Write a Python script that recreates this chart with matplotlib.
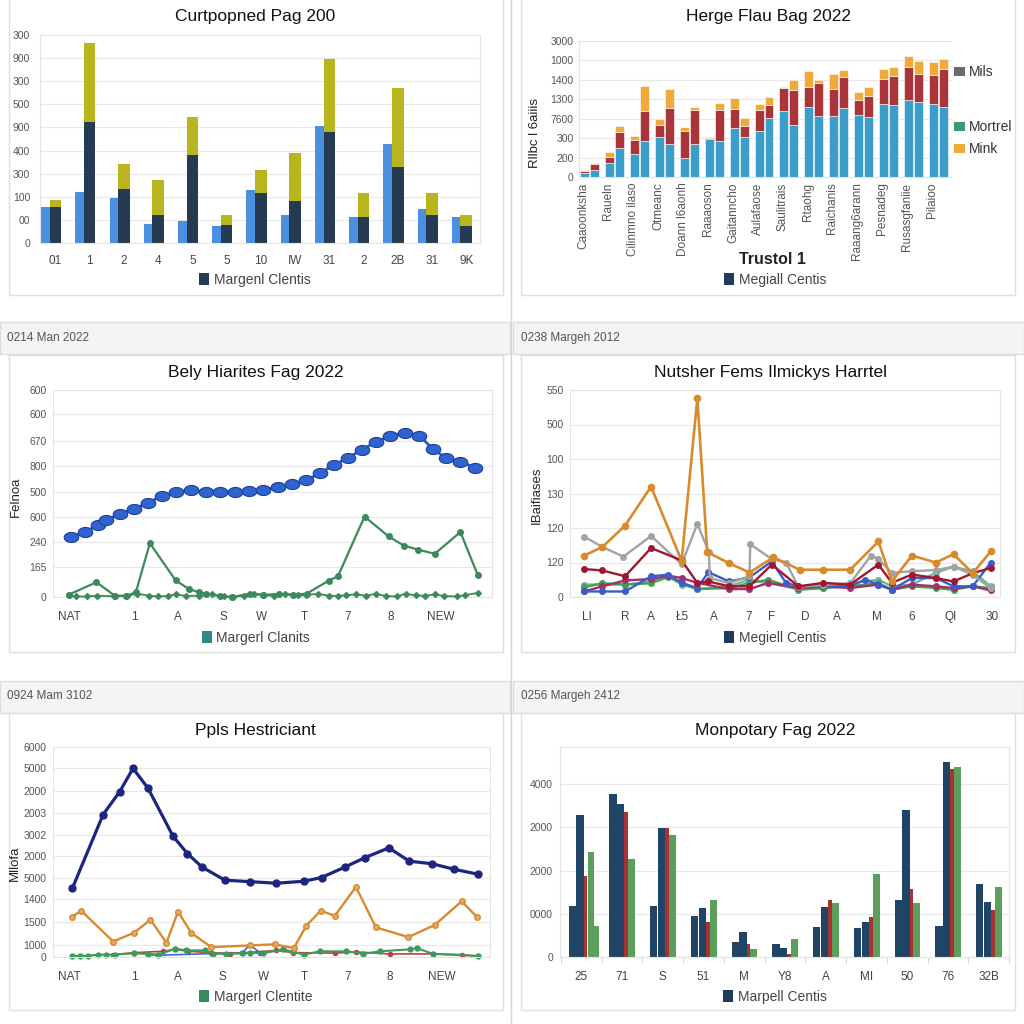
import numpy as np
import matplotlib
matplotlib.use("Agg")
import matplotlib.pyplot as plt
from matplotlib.patches import Rectangle, Patch

plt.rcParams["font.family"] = ["Liberation Sans", "DejaVu Sans"]

# ===================== DATA =====================
# Panel 1 (top-left) grouped + stacked bars
p1_title = "Curtpopned Pag 200"
p1_cats = ["01", "1", "2", "4", "5", "5", "10", "IW", "31", "2", "2B", "31", "9K"]
p1_ytick_labels = ["0", "00", "100", "300", "400", "900", "500", "300", "900", "300"]
p1_light = [1.57, 2.2, 1.96, 0.83, 0.97, 0.73, 2.31, 1.19, 5.08, 1.13, 4.28, 1.49, 1.12]
p1_navy = [1.57, 5.25, 2.32, 1.19, 3.80, 0.77, 2.15, 1.81, 4.82, 1.13, 3.31, 1.19, 0.74]
p1_yellow = [0.27, 3.39, 1.09, 1.52, 1.67, 0.46, 1.0, 2.08, 3.16, 1.05, 3.41, 0.99, 0.45]
p1_legend = "Margenl Clentis"

# Panel 2 (top-right) stacked bars
p2_title = "Herge Flau Bag 2022"
p2_cats = ["Caaoonksha", "Raueln", "Cilinmno ilaso", "Otmeanc", "Doann l6aonh",
           "Raaaoson", "Gaitanncho", "Aulafaose", "Saulitrais", "Rtaohg",
           "Raichanis", "Raaang6arann", "Pesnadeg", "Rusasgfaniie", "Pilaioo"]
p2_ytick_labels = ["0", "200", "300", "7600", "1300", "1400", "1000", "3000"]
p2_blue = [0.2, 0.34, 0.72, 1.5, 1.16, 1.85, 2.05, 1.71, 0.99, 1.71, 1.97, 1.83, 2.53, 2.05, 2.36,
           3.04, 3.42, 2.7, 3.62, 3.16, 3.16, 3.54, 3.2, 3.08, 3.76, 3.71, 3.97, 3.85, 3.76, 3.59]
p2_red = [0.1, 0.34, 0.31, 0.84, 0.77, 1.57, 0.63, 1.85, 1.4, 1.74, 0.04, 1.62, 0.97, 0.6, 1.11,
          0.67, 1.14, 1.8, 1.03, 1.68, 1.37, 1.59, 0.77, 1.11, 1.28, 1.5, 1.67, 1.45, 1.5, 1.97]
p2_orange = [0.08, 0.04, 0.25, 0.26, 0.17, 1.25, 0.32, 0.97, 0.17, 0.17, 0.04, 0.35, 0.55, 0.39, 0.29,
             0.43, 0.06, 0.49, 0.82, 0.15, 0.77, 0.37, 0.39, 0.43, 0.52, 0.43, 0.6, 0.68, 0.64, 0.51]
p2_ylabel = "Rllbc l 6aiiis"
p2_xlabel = "Trustol 1"
p2_side_legend = ["Mils", "Mortrel", "Mink"]
p2_legend = "Megiall Centis"

# Panel 3 (middle-left) lines
p3_header = "0214 Man 2022"
p3_title = "Bely Hiarites Fag 2022"
p3_ytick_pos = [0, 1.16, 2.12, 3.11, 4.06, 5.07, 6.04, 7.06, 8.0]
p3_ytick_labels = ["0", "165", "240", "600", "500", "800", "670", "600", "600"]
p3_xtick_pos = [1.18, 5.78, 8.84, 12.03, 14.74, 17.76, 20.83, 23.82, 27.41]
p3_xtick_labels = ["NAT", "1", "A", "S", "W", "T", "7", "8", "NEW"]
p3_blue_x = [1.25, 2.29, 3.18, 3.77, 4.72, 5.73, 6.72, 7.67, 8.68, 9.72, 10.78, 11.79, 12.85, 13.84, 14.86,
             15.87, 16.89, 17.88, 18.87, 19.81, 20.83, 21.82, 22.81, 23.82, 24.83, 25.87, 26.84, 27.74, 28.77, 29.83]
p3_blue_y = [2.33, 2.51, 2.80, 2.97, 3.22, 3.41, 3.64, 3.91, 4.06, 4.12, 4.06, 4.04, 4.06, 4.10, 4.15,
             4.24, 4.35, 4.51, 4.80, 5.09, 5.38, 5.70, 5.99, 6.24, 6.34, 6.24, 5.71, 5.38, 5.23, 5.00]
p3_green_x = [1.11, 3.07, 4.36, 5.19, 5.85, 6.84, 8.66, 9.6, 10.31, 10.78, 11.79, 12.67, 13.92, 14.86, 15.99,
              16.98, 17.92, 19.46, 20.12, 22.0, 23.7, 24.76, 25.78, 26.96, 28.77, 30.0]
p3_green_y = [0.09, 0.57, 0.05, 0.05, 0.18, 2.08, 0.64, 0.31, 0.18, 0.13, 0.03, 0.0, 0.13, 0.08, 0.12,
              0.09, 0.13, 0.63, 0.80, 3.11, 2.34, 1.99, 1.83, 1.67, 2.51, 0.84]
p3_flat_x = [1.1, 1.6, 2.4, 3.1, 4.3, 5.2, 5.9, 6.8, 7.4, 8.1, 8.7, 9.4, 10.3, 11.2, 12.1, 12.7, 13.5, 14.2,
             14.9, 15.6, 16.4, 17.3, 17.9, 18.7, 19.5, 20.1, 20.7, 21.4, 22.1, 22.8, 23.5, 24.3, 24.9, 25.6,
             26.3, 27.0, 27.6, 28.5, 29.1, 30.0]
p3_flat_y = [0.08, 0.02, 0.02, 0.05, 0.03, 0.04, 0.13, 0.05, 0.02, 0.04, 0.1, 0.04, 0.05, 0.1, 0.03, 0.0,
             0.05, 0.12, 0.08, 0.04, 0.1, 0.06, 0.08, 0.12, 0.05, 0.04, 0.07, 0.1, 0.05, 0.12, 0.04, 0.02,
             0.13, 0.06, 0.05, 0.1, 0.04, 0.02, 0.07, 0.16]
p3_ylabel = "Felnoa"
p3_legend = "Margerl Clanits"

# Panel 4 (middle-right) multi lines
p4_header = "0238 Margeh 2012"
p4_title = "Nutsher Fems Ilmickys Harrtel"
p4_ytick_labels = ["0", "120", "120", "130", "100", "500", "550"]
p4_xtick_pos = [1.01, 3.33, 4.9, 6.81, 8.71, 10.79, 12.2, 14.21, 16.13, 18.55, 20.67, 23.04, 25.5]
p4_xtick_labels = ["LI", "R", "A", "Ł5", "A", "7", "F", "D", "A", "M", "6", "QI", "30"]
p4_orange_x = [0.85, 1.96, 3.33, 4.9, 6.75, 7.7, 8.3, 9.62, 10.85, 12.3, 13.9, 15.32, 16.94, 18.65, 19.46,
               20.67, 22.12, 23.19, 24.35, 25.44]
p4_orange_y = [1.2, 1.45, 2.07, 3.2, 1.05, 5.76, 1.3, 0.98, 0.71, 1.15, 0.79, 0.79, 0.79, 1.61, 0.45,
               1.2, 1.0, 1.24, 0.69, 1.32]
p4_gray_x = [0.85, 1.96, 3.23, 4.9, 6.75, 7.7, 8.4, 8.45, 9.62, 10.85, 10.9, 12.2, 13.06, 13.81, 15.32,
             16.94, 18.2, 18.65, 19.46, 20.67, 22.12, 23.19, 24.35, 25.44]
p4_gray_y = [1.75, 1.45, 1.17, 1.77, 0.95, 2.12, 1.3, 0.55, 0.4, 0.6, 1.53, 1.1, 1.0, 0.3, 0.35,
             0.4, 1.2, 1.1, 0.7, 0.75, 0.78, 0.88, 0.65, 0.25]
p4_red_x = [0.85, 1.96, 3.33, 4.9, 6.75, 7.7, 8.37, 9.62, 10.85, 12.2, 13.81, 15.32, 16.94, 18.65, 19.46,
            20.67, 22.12, 23.19, 24.35, 25.44]
p4_red_y = [0.81, 0.77, 0.60, 1.42, 1.06, 0.41, 0.45, 0.31, 0.31, 0.94, 0.31, 0.41, 0.36, 0.94, 0.41,
            0.65, 0.55, 0.45, 0.69, 0.84]
p4_blue_x = [0.85, 1.96, 3.33, 4.9, 5.95, 6.75, 7.7, 8.37, 9.62, 10.85, 12.2, 13.06, 13.81, 15.32, 16.94,
             17.84, 18.65, 19.46, 20.67, 22.12, 23.19, 24.35, 25.44]
p4_blue_y = [0.16, 0.16, 0.16, 0.6, 0.65, 0.41, 0.26, 0.72, 0.45, 0.57, 1.03, 0.41, 0.31, 0.31, 0.31,
             0.5, 0.36, 0.21, 0.55, 0.55, 0.31, 0.31, 1.0]
p4_small_x = [0.85, 1.96, 3.33, 4.9, 5.95, 6.75, 7.7, 9.62, 10.85, 12.0, 13.81, 15.32, 16.94, 18.65, 19.46,
              20.67, 22.12, 23.19, 24.35, 25.44]
p4_green_y = [0.28, 0.4, 0.36, 0.4, 0.58, 0.4, 0.23, 0.26, 0.4, 0.5, 0.21, 0.26, 0.31, 0.4, 0.21,
              0.31, 0.26, 0.21, 0.31, 0.26]
p4_purple_y = [0.16, 0.31, 0.48, 0.52, 0.62, 0.55, 0.41, 0.23, 0.23, 0.41, 0.26, 0.31, 0.26, 0.36, 0.21,
               0.36, 0.31, 0.26, 0.31, 0.19]
p4_teal_y = [0.36, 0.36, 0.36, 0.45, 0.6, 0.36, 0.23, 0.31, 0.5, 0.4, 0.23, 0.26, 0.4, 0.5, 0.31,
             0.36, 0.7, 0.88, 0.74, 0.31]
p4_ylabel = "IBaifiases"
p4_legend = "Megiell Centis"

# Panel 5 (bottom-left) lines
p5_header = "0924 Mam 3102"
p5_title = "Ppls Hestriciant"
p5_ytick_pos = [0, 0.56, 1.62, 2.65, 3.6, 4.62, 5.6, 6.59, 7.62, 8.64, 9.62]
p5_ytick_labels = ["0", "1000", "1500", "1400", "5000", "2000", "3002", "2003", "2000", "5000", "6000"]
p5_xtick_pos = [1.18, 5.73, 8.84, 11.98, 14.86, 17.76, 20.83, 23.82, 27.48]
p5_xtick_labels = ["NAT", "1", "A", "S", "W", "T", "7", "8", "NEW"]
p5_navy_x = [1.37, 3.54, 4.72, 5.66, 6.72, 8.49, 9.5, 10.54, 12.15, 13.96, 15.8, 17.74, 18.99, 20.64,
             22.05, 23.75, 25.19, 26.82, 28.35, 30.07]
p5_navy_y = [3.15, 6.52, 7.58, 8.64, 7.73, 5.53, 4.74, 4.12, 3.52, 3.45, 3.38, 3.47, 3.64, 4.12,
             4.55, 5.0, 4.39, 4.27, 4.02, 3.79]
p5_orange_x = [1.37, 2.0, 4.25, 5.73, 6.89, 8.02, 8.84, 9.79, 11.2, 13.92, 15.68, 17.03, 17.92, 18.92,
               19.93, 21.42, 22.83, 25.12, 27.0, 28.89, 30.0]
p5_orange_y = [1.85, 2.12, 0.71, 1.11, 1.71, 0.65, 2.08, 1.09, 0.45, 0.53, 0.58, 0.41, 1.44, 2.12,
               1.89, 3.21, 1.36, 0.91, 1.47, 2.55, 1.82]
p5_green_x = [1.37, 1.89, 2.48, 3.18, 3.77, 4.36, 5.73, 6.72, 7.43, 8.66, 9.43, 10.78, 11.32, 12.26,
              13.33, 13.92, 14.86, 16.27, 16.98, 17.74, 18.87, 20.75, 21.93, 23.11, 25.24, 25.71, 26.89, 30.07]
p5_green_y = [0.05, 0.05, 0.05, 0.11, 0.11, 0.11, 0.17, 0.14, 0.11, 0.38, 0.3, 0.3, 0.15, 0.14,
              0.17, 0.2, 0.17, 0.35, 0.23, 0.11, 0.26, 0.26, 0.15, 0.26, 0.35, 0.41, 0.14, 0.05]
p5_red_x = [4.25, 5.73, 7.78, 8.66, 9.55, 11.2, 12.5, 15.8, 16.98, 19.93, 21.46, 23.82, 26.89, 28.89, 30.07]
p5_red_y = [0.11, 0.2, 0.26, 0.35, 0.26, 0.2, 0.15, 0.3, 0.2, 0.18, 0.23, 0.14, 0.14, 0.11, 0.03]
p5_blue_x = [6.72, 7.43, 13.4, 13.92, 14.62]
p5_blue_y = [0.11, 0.08, 0.2, 0.56, 0.2]
p5_ylabel = "Mllofa"
p5_legend = "Margerl Clentite"

# Panel 6 (bottom-right) grouped bars
p6_header = "0256 Margeh 2412"
p6_title = "Monpotary Fag 2022"
p6_cats = ["25", "71", "S", "51", "M", "Y8", "A", "MI", "50", "76", "32B"]
p6_ytick_labels = ["0", "0000", "2000", "2000", "4000"]
p6_navy1 = [1.19, 3.77, 1.18, 0.94, 0.34, 0.3, 0.69, 0.68, 1.32, 0.72, 1.69]
p6_navy2 = [3.28, 3.54, 2.98, 1.13, 0.58, 0.2, 1.15, 0.82, 3.4, 4.51, 1.28]
p6_red = [1.88, 3.35, 2.98, 0.8, 0.3, 0.08, 1.31, 0.92, 1.57, 4.36, 1.09]
p6_green = [2.42, 2.27, 2.82, 1.32, 0.19, 0.42, 1.26, 1.92, 1.26, 4.39, 1.62]
p6_green_extra = [0.72, 0, 0, 0, 0, 0, 0, 0, 0, 0, 0]
p6_legend = "Marpell Centis"

# ===================== FIGURE =====================
W = H = 1024
fig = plt.figure(figsize=(W / 100, H / 100), dpi=100)
fig.patch.set_facecolor("white")


def fx(px):
    return px / W


def fy(py):
    return 1 - py / H


def rect(x0, y0, x1, y1, fc="white", ec="#dcdcdc", lw=1.0, z=0):
    fig.add_artist(Rectangle((fx(x0), fy(y1)), fx(x1) - fx(x0), fy(y0) - fy(y1),
                             transform=fig.transFigure, fc=fc, ec=ec, lw=lw, zorder=z))


def mkax(l, t, r, b):
    ax = fig.add_axes([fx(l), fy(b), fx(r) - fx(l), fy(t) - fy(b)])
    ax.set_facecolor("white")
    for s in ax.spines.values():
        s.set_color("#e4e4e4")
        s.set_linewidth(0.8)
    ax.grid(axis="y", color="#e8e8e8", lw=0.8)
    ax.set_axisbelow(True)
    ax.tick_params(axis="both", length=0, labelsize=7.5, labelcolor="#555555")
    ax.tick_params(axis="x", labelsize=8.5, labelcolor="#444444")
    return ax


def title(cx, cy, s):
    fig.text(fx(cx), fy(cy), s, ha="center", va="center", fontsize=12.5, color="#111111")


def legend(cx, cy, color, label):
    fig.legend(handles=[Patch(facecolor=color, label=label)], loc="center",
               bbox_to_anchor=(fx(cx), fy(cy)), frameon=False, fontsize=10,
               handlelength=0.7, handleheight=0.9, handletextpad=0.35,
               borderaxespad=0, borderpad=0, labelcolor="#444444")


def ylab(x, y, s):
    fig.text(fx(x), fy(y), s, rotation=90, ha="center", va="center", fontsize=9.5, color="#222222")


# background frames
fig.add_artist(plt.Line2D([fx(511), fx(511)], [0, 1], transform=fig.transFigure, color="#d4d4d4", lw=1))
for (y0, y1) in [(322, 354), (681, 713)]:
    rect(0, y0, 510, y1, fc="#f4f4f4", ec="#dddddd")
    rect(513, y0, 1024, y1, fc="#f4f4f4", ec="#dddddd")
for (y0, y1) in [(-3, 295), (355, 652), (713, 1010)]:
    rect(9, y0, 503, y1, fc="white", ec="#e0e0e0")
    rect(521, y0, 1015, y1, fc="white", ec="#e0e0e0")

fig.text(fx(7), fy(338), p3_header, ha="left", va="center", fontsize=8.5, color="#555555")
fig.text(fx(521), fy(338), p4_header, ha="left", va="center", fontsize=8.5, color="#555555")
fig.text(fx(7), fy(696), p5_header, ha="left", va="center", fontsize=8.5, color="#555555")
fig.text(fx(521), fy(696), p6_header, ha="left", va="center", fontsize=8.5, color="#555555")

# ---------- Panel 1 ----------
ax1 = mkax(40, 35, 480, 243)
x1 = np.arange(len(p1_cats))
ax1.bar(x1 - 0.295, p1_light, width=0.25, color="#4b8fe0")
ax1.bar(x1, p1_navy, width=0.34, color="#263b52")
ax1.bar(x1, p1_yellow, width=0.34, bottom=p1_navy, color="#b8b51f")
ax1.set_xlim(-0.45, 12.4)
ax1.set_ylim(0, 9)
ax1.set_yticks(np.arange(len(p1_ytick_labels)))
ax1.set_yticklabels(p1_ytick_labels)
ax1.set_xticks(x1)
ax1.set_xticklabels(p1_cats)
ax1.tick_params(axis="y", pad=7)
ax1.tick_params(axis="x", pad=9)
title(255, 17, p1_title)
legend(255, 280, "#263b52", p1_legend)

# ---------- Panel 2 ----------
ax2 = mkax(579, 41, 952, 177)
n2 = len(p2_blue)
idx = np.arange(n2)
pos2 = idx // 2 + np.where(idx % 2 == 0, -0.2, 0.2)
b_blue = np.array(p2_blue)
b_red = np.array(p2_red)
ax2.bar(pos2, b_blue, width=0.36, color="#3b9dca", edgecolor="white", linewidth=0.4)
ax2.bar(pos2, b_red, width=0.36, bottom=b_blue, color="#a9353b", edgecolor="white", linewidth=0.4)
ax2.bar(pos2, p2_orange, width=0.36, bottom=b_blue + b_red, color="#f0aa3a", edgecolor="white", linewidth=0.4)
ax2.set_xlim(-0.43, 14.55)
ax2.set_ylim(0, 7)
ax2.set_yticks(np.arange(len(p2_ytick_labels)))
ax2.set_yticklabels(p2_ytick_labels)
ax2.set_xticks(np.arange(len(p2_cats)) - 0.25)
ax2.set_xticklabels(p2_cats, rotation=90, fontsize=8.5, va="top", ha="center", color="#555555")
ax2.tick_params(axis="y", pad=4)
ax2.tick_params(axis="x", pad=4)
ax2.spines["right"].set_visible(False)
title(768, 17, p2_title)
ylab(535, 133, p2_ylabel)
fig.text(fx(772), fy(260), p2_xlabel, ha="center", va="center", fontsize=11.5,
         fontweight="bold", color="#222222")
for lab, col, yy in zip(p2_side_legend, ["#6b6b6b", "#3a9a6a", "#f0aa3a"], [72, 127, 149]):
    fig.legend(handles=[Patch(facecolor=col, label=lab)], loc="center left",
               bbox_to_anchor=(fx(954), fy(yy)), frameon=False, fontsize=10,
               handlelength=0.8, handleheight=0.6, handletextpad=0.3,
               borderaxespad=0, borderpad=0, labelcolor="#333333")
legend(775, 280, "#1f3d5a", p2_legend)

# ---------- Panel 3 ----------
ax3 = mkax(53, 390, 492, 597)
t = np.linspace(0, 2 * np.pi, 41)
ellipse = np.column_stack([1.45 * np.cos(t), np.sin(t)])
ax3.plot(p3_flat_x, p3_flat_y, color="#3c8a5a", lw=1.3, marker="D", ms=3, clip_on=False, zorder=3)
ax3.plot(p3_green_x, p3_green_y, color="#3c8a5a", lw=1.6, marker="o", ms=4, clip_on=False, zorder=4)
ax3.plot(p3_blue_x, p3_blue_y, color="#2b5cc6", lw=2, marker=ellipse, ms=10.5,
         mfc="#2f63d0", mec="#1d409c", mew=0.8, zorder=5)
ax3.set_xlim(0, 31)
ax3.set_ylim(0, 8)
ax3.set_yticks(p3_ytick_pos)
ax3.set_yticklabels(p3_ytick_labels)
ax3.set_xticks(p3_xtick_pos)
ax3.set_xticklabels(p3_xtick_labels)
ax3.tick_params(axis="y", pad=4.5)
ax3.tick_params(axis="x", pad=10)
title(256, 373, p3_title)
ylab(16, 497, p3_ylabel)
legend(256, 638, "#2e8a82", p3_legend)

# ---------- Panel 4 ----------
ax4 = mkax(570, 390, 1000, 597)
lk = dict(lw=1.7, marker="o", ms=4, clip_on=False)
ax4.plot(p4_small_x, p4_teal_y, color="#7ab0a0", **lk)
ax4.plot(p4_small_x, p4_green_y, color="#3fa34d", **lk)
ax4.plot(p4_small_x, p4_purple_y, color="#a0306a", **lk)
ax4.plot(p4_blue_x, p4_blue_y, color="#3c5ccc", **lk)
ax4.plot(p4_gray_x, p4_gray_y, color="#a3a3a3", **lk)
ax4.plot(p4_red_x, p4_red_y, color="#a0182c", **lk)
ax4.plot(p4_orange_x, p4_orange_y, color="#d98a2a", lw=1.9, marker="o", ms=4.5, clip_on=False)
ax4.set_xlim(0, 26)
ax4.set_ylim(0, 6)
ax4.set_yticks(np.arange(len(p4_ytick_labels)))
ax4.set_yticklabels(p4_ytick_labels)
ax4.set_xticks(p4_xtick_pos)
ax4.set_xticklabels(p4_xtick_labels)
ax4.tick_params(axis="y", pad=4.5)
ax4.tick_params(axis="x", pad=10)
title(770, 373, p4_title)
ylab(537, 495, p4_ylabel)
legend(775, 638, "#1f3d5a", p4_legend)

# ---------- Panel 5 ----------
ax5 = mkax(53, 747, 490, 957)
ax5.plot(p5_blue_x, p5_blue_y, color="#3c6cd0", lw=1.2, marker="o", ms=3, clip_on=False)
ax5.plot(p5_red_x, p5_red_y, color="#c04040", lw=1.2, marker="o", ms=3, clip_on=False)
ax5.plot(p5_green_x, p5_green_y, color="#3c9a5a", lw=1.5, marker="o", ms=3.5, clip_on=False)
ax5.plot(p5_orange_x, p5_orange_y, color="#d98a30", lw=1.7, marker="o", ms=4, mfc="#e8a860", clip_on=False)
ax5.plot(p5_navy_x, p5_navy_y, color="#1c2680", lw=2.3, marker="o", ms=5, clip_on=False)
ax5.set_xlim(0, 30.9)
ax5.set_ylim(0, 9.62)
ax5.set_yticks(p5_ytick_pos)
ax5.set_yticklabels(p5_ytick_labels)
ax5.set_xticks(p5_xtick_pos)
ax5.set_xticklabels(p5_xtick_labels)
ax5.tick_params(axis="y", pad=4.5)
ax5.tick_params(axis="x", pad=10)
title(255, 731, p5_title)
ylab(15, 863, p5_ylabel)
legend(256, 997, "#3a8a60", p5_legend)

# ---------- Panel 6 ----------
ax6 = mkax(560, 747, 1009, 957)
x6 = np.arange(len(p6_cats))
ax6.bar(x6 - 0.22, p6_navy1, width=0.18, color="#1f4466")
ax6.bar(x6 - 0.03, p6_navy2, width=0.18, color="#1f4466")
ax6.bar(x6 + 0.105, p6_red, width=0.09, color="#a83232")
ax6.bar(x6 + 0.24, p6_green, width=0.17, color="#5c9e5c")
ax6.bar(x6 + 0.375, p6_green_extra, width=0.1, color="#5c9e5c")
ax6.set_xlim(-0.52, 10.47)
ax6.set_ylim(0, 4.86)
ax6.set_yticks(np.arange(len(p6_ytick_labels)))
ax6.set_yticklabels(p6_ytick_labels)
ax6.set_xticks(x6)
ax6.set_xticklabels(p6_cats)
ax6.set_xticks(np.arange(-0.5, len(p6_cats), 1), minor=True)
ax6.tick_params(axis="x", which="minor", length=4, color="#cccccc", direction="out")
ax6.tick_params(axis="y", pad=5)
ax6.tick_params(axis="x", pad=10)
title(775, 731, p6_title)
legend(775, 997, "#1f3d5a", p6_legend)

fig.savefig("out.png", dpi=100, facecolor="white")
